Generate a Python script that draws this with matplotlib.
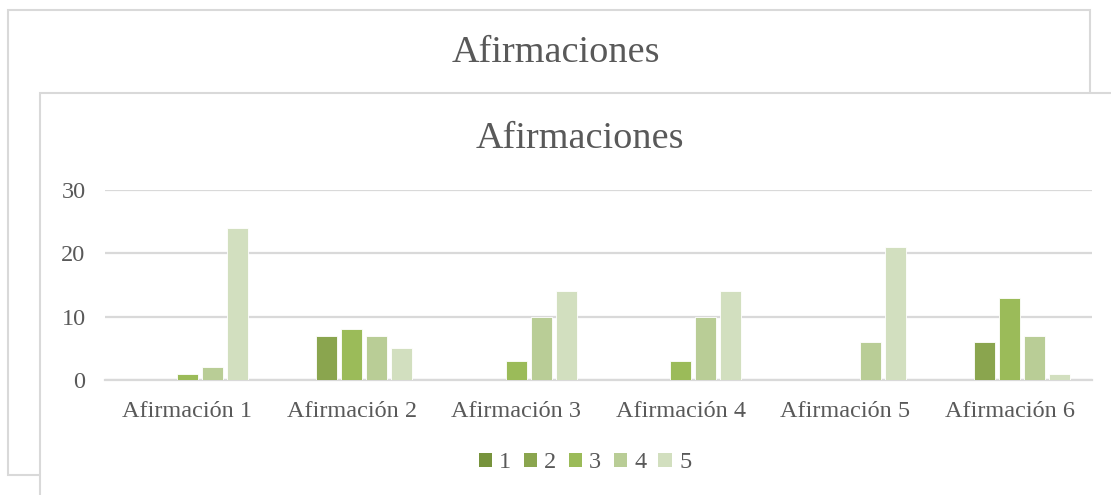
import numpy as np
import matplotlib.pyplot as plt
from matplotlib.patches import Rectangle, Patch

categorias = ['Afirmación 1', 'Afirmación 2', 'Afirmación 3',
              'Afirmación 4', 'Afirmación 5', 'Afirmación 6']
serie_1 = [0, 0, 0, 0, 0, 0]
serie_2 = [0, 7, 0, 0, 0, 6]
serie_3 = [1, 8, 3, 3, 0, 13]
serie_4 = [2, 7, 10, 10, 6, 7]
serie_5 = [24, 5, 14, 14, 21, 1]
nombres = ['1', '2', '3', '4', '5']
colores = ['#77933c', '#8aa54e', '#9bbb59', '#b9cd96', '#d2dfbf']

texto = '#595959'
borde = '#d9d9d9'
fuente = ['Liberation Serif', 'DejaVu Serif']
plt.rcParams['font.family'] = fuente

W, H = 1111, 495
fig = plt.figure(figsize=(W / 100, H / 100), dpi=100)

# two chart frames, the front one overlapping the back one
fig.patches.append(Rectangle((8 / W, 1 - 475 / H), 1082 / W, 465 / H,
                             transform=fig.transFigure, facecolor='white',
                             edgecolor=borde, lw=1.5, zorder=0))
fig.patches.append(Rectangle((40 / W, -0.2), 1.2, 1.2 - 93 / H,
                             transform=fig.transFigure, facecolor='white',
                             edgecolor=borde, lw=1.5, zorder=1))
fig.text(556 / W, 1 - 53 / H, 'Afirmaciones', ha='center', va='center',
         fontsize=27.5, color=texto)
fig.text(580 / W, 1 - 139 / H, 'Afirmaciones', ha='center', va='center',
         fontsize=27.5, color=texto, zorder=3)

ax = fig.add_axes([105 / W, 1 - 380 / H, 987 / W, 190 / H])
ax.set_zorder(2)
ax.patch.set_alpha(0)

series = [serie_1, serie_2, serie_3, serie_4, serie_5]
x = np.arange(len(categorias))
paso = 25 / 164.5
ancho = 21 / 164.5
for i, valores in enumerate(series):
    ax.bar(x + (i - 2) * paso, valores, width=ancho, color=colores[i],
           edgecolor='white', linewidth=0.6, zorder=3)

ax.set_xlim(-0.5, len(categorias) - 0.5)
ax.set_ylim(0, 30)
ax.set_yticks([0, 10, 20, 30])
ax.yaxis.grid(True, color=borde, lw=1.6, zorder=0)
ax.set_xticks(x)
ax.set_xticklabels(categorias)
ax.tick_params(axis='both', length=0, labelsize=17.5, labelcolor=texto)
ax.tick_params(axis='x', pad=15)
ax.tick_params(axis='y', pad=14)
for s in ['top', 'right', 'left']:
    ax.spines[s].set_visible(False)
ax.spines['bottom'].set_color(borde)
ax.spines['bottom'].set_linewidth(1.6)

manijas = [Patch(facecolor=c, edgecolor='none') for c in colores]
fig.legend(manijas, nombres, loc='center', bbox_to_anchor=(585 / W, 1 - 463 / H),
           ncol=5, frameon=False, fontsize=17.5, labelcolor=texto,
           handlelength=0.55, handleheight=0.55, handletextpad=0.3,
           columnspacing=0.5, borderpad=0)

fig.savefig('out.png', dpi=100)
